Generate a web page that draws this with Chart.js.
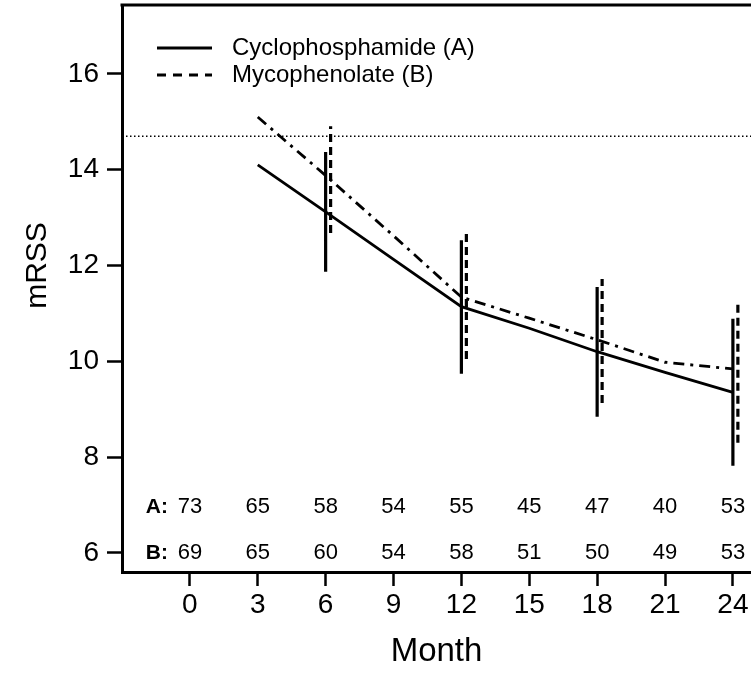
<!DOCTYPE html>
<html>
<head>
<meta charset="utf-8">
<script src="https://cdn.jsdelivr.net/npm/chart.js@4.4.1/dist/chart.umd.min.js"></script>
<style>
  body { margin: 0; background: #fff; }
  canvas { display: block; }
</style>
</head>
<body>
<canvas id="mrssChart" width="751" height="673"></canvas>
<script>
// data
const seriesNames = ["Cyclophosphamide (A)", "Mycophenolate (B)"];
const months = [3, 6, 9, 12, 15, 18, 21, 24];
const meanA = [14.10, 13.12, 12.13, 11.14, 10.69, 10.20, 9.77, 9.35];
const meanB = [15.10, 13.88, 12.62, 11.34, 10.90, 10.45, 9.98, 9.84];

// error bars at the visits
const visitMonths = [6, 12, 18, 24];
const lowA = [11.87, 9.74, 8.84, 7.82];
const highA = [14.37, 12.53, 11.55, 10.89];
const lowB = [12.68, 10.05, 9.13, 8.30];
const highB = [14.91, 12.66, 11.72, 11.28];

const baseline = 14.7;

// numbers at risk
const countMonths = [0, 3, 6, 9, 12, 15, 18, 21, 24];
const countA = [73, 65, 58, 54, 55, 45, 47, 40, 53];
const countB = [69, 65, 60, 54, 58, 51, 50, 49, 53];
const countRowA = 6.95;
const countRowB = 6.0;

const xTicks = [0, 3, 6, 9, 12, 15, 18, 21, 24];
const yTicks = [6, 8, 10, 12, 14, 16];
const xMin = -3, xMax = 24.8;
const yMin = 5.6, yMax = 17.44;

const FONT = "'Liberation Sans', Arial, Helvetica, sans-serif";
const offsetB = 0.22; // B bars are nudged right of A bars

const toPoints = (xs, ys) => xs.map((x, i) => ({ x: x, y: ys[i] }));

// each bar is two points followed by a gap
const barPoints = (xs, lows, highs, shift) => {
  const pts = [];
  xs.forEach((x, i) => {
    pts.push({ x: x + shift, y: lows[i] });
    pts.push({ x: x + shift, y: highs[i] });
    pts.push({ x: x + shift, y: null });
  });
  return pts;
};

const extras = {
  id: 'extras',
  afterDraw: (chart) => {
    const ctx = chart.ctx;
    const ca = chart.chartArea;
    const xs = chart.scales.x;
    const ys = chart.scales.y;
    ctx.save();
    ctx.strokeStyle = '#000';
    ctx.fillStyle = '#000';

    // top edge of the box
    ctx.lineWidth = 3;
    ctx.beginPath();
    ctx.moveTo(ca.left - 1.5, ca.top);
    ctx.lineTo(ca.right, ca.top);
    ctx.stroke();

    // legend
    const legY = [ca.top + 43, ca.top + 70];
    const legDash = [[], [9, 7]];
    ctx.lineWidth = 2.8;
    ctx.font = '24px ' + FONT;
    ctx.textAlign = 'left';
    ctx.textBaseline = 'middle';
    seriesNames.forEach((name, i) => {
      ctx.setLineDash(legDash[i]);
      ctx.beginPath();
      ctx.moveTo(ca.left + 35, legY[i]);
      ctx.lineTo(ca.left + 90, legY[i]);
      ctx.stroke();
      ctx.fillText(name, ca.left + 110, legY[i]);
    });
    ctx.setLineDash([]);

    // numbers at risk
    const rows = [[countRowA, countA, 'A:'], [countRowB, countB, 'B:']];
    rows.forEach((row) => {
      const py = ys.getPixelForValue(row[0]);
      ctx.font = 'bold 21px ' + FONT;
      ctx.textAlign = 'right';
      ctx.fillText(row[2], xs.getPixelForValue(countMonths[0]) - 22, py);
      ctx.font = '22px ' + FONT;
      ctx.textAlign = 'center';
      countMonths.forEach((m, i) => {
        ctx.fillText(String(row[1][i]), xs.getPixelForValue(m), py);
      });
    });

    // y title
    ctx.translate(38, ys.getPixelForValue(12));
    ctx.rotate(-Math.PI / 2);
    ctx.font = '30px ' + FONT;
    ctx.textAlign = 'center';
    ctx.fillText('mRSS', 0, 0);
    ctx.restore();
  }
};

const data = {
  datasets: [
    {
      label: seriesNames[0],
      data: toPoints(months, meanA),
      borderColor: '#000',
      borderWidth: 2.8,
      pointRadius: 0
    },
    {
      label: seriesNames[1],
      data: toPoints(months, meanB),
      borderColor: '#000',
      borderWidth: 2.8,
      borderDash: [11, 6, 3, 6],
      pointRadius: 0
    },
    {
      label: 'A range',
      data: barPoints(visitMonths, lowA, highA, 0),
      borderColor: '#000',
      borderWidth: 3.2,
      pointRadius: 0,
      spanGaps: false
    },
    {
      label: 'B range',
      data: barPoints(visitMonths, lowB, highB, offsetB),
      borderColor: '#000',
      borderWidth: 3.2,
      borderDash: [8, 5],
      pointRadius: 0,
      spanGaps: false
    },
    {
      label: 'baseline',
      data: [{ x: xMin, y: baseline }, { x: xMax, y: baseline }],
      borderColor: '#000',
      borderWidth: 1.5,
      borderDash: [1.5, 2.5],
      pointRadius: 0
    }
  ]
};

const config = {
  type: 'line',
  data: data,
  options: {
    responsive: false,
    animation: false,
    layout: { padding: { top: 5, left: 0, right: 0, bottom: 0 } },
    plugins: {
      legend: { display: false },
      tooltip: { enabled: false }
    },
    scales: {
      x: {
        type: 'linear',
        min: xMin,
        max: xMax,
        afterBuildTicks: (s) => { s.ticks = xTicks.map(v => ({ value: v })); },
        afterFit: (s) => { s.height = 101; s.paddingLeft = 0; s.paddingRight = 0; },
        ticks: { color: '#000', font: { family: FONT, size: 28 }, padding: 2, maxRotation: 0 },
        grid: { drawOnChartArea: false, drawTicks: true, tickLength: 14, tickWidth: 2.5, color: '#000' },
        border: { display: true, width: 3, color: '#000' },
        title: { display: true, text: 'Month', color: '#000', font: { family: FONT, size: 33 }, padding: { top: 0, bottom: 1 } }
      },
      y: {
        type: 'linear',
        min: yMin,
        max: yMax,
        afterBuildTicks: (s) => { s.ticks = yTicks.map(v => ({ value: v })); },
        afterFit: (s) => { s.width = 122; s.paddingTop = 0; s.paddingBottom = 0; },
        ticks: { color: '#000', font: { family: FONT, size: 28 }, padding: 8 },
        grid: { drawOnChartArea: false, drawTicks: true, tickLength: 15, tickWidth: 2.5, color: '#000' },
        border: { display: true, width: 3, color: '#000' }
      }
    }
  },
  plugins: [extras]
};

new Chart(document.getElementById('mrssChart'), config);
</script>
</body>
</html>
